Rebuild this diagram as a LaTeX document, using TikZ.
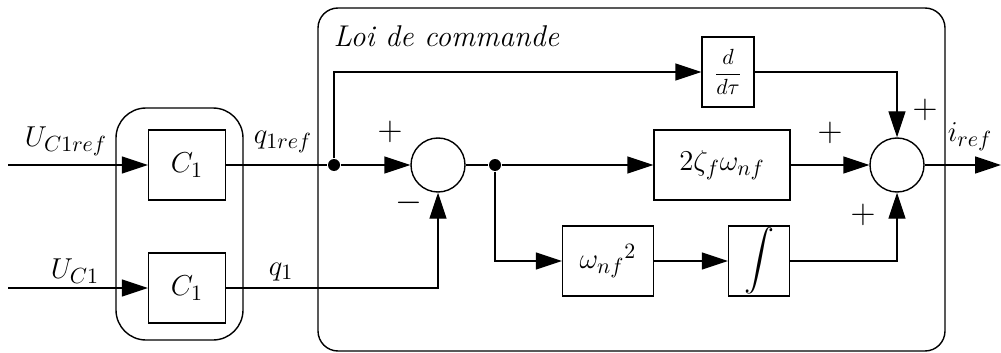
\documentclass[tikz,border=0pt]{standalone}
\usepackage{amsmath, amssymb}
\usepackage{tikz}
\usetikzlibrary{arrows.meta}
\usetikzlibrary{positioning}

\begin{document}
\begin{tikzpicture}[x=0.5pt, y=-0.5pt, >={Triangle[length=13pt,width=8.5pt]},
    line width=0.7pt, font=\fontsize{15}{18}\selectfont,
    block/.style={draw, inner sep=0pt, minimum height=35pt},
    sumnode/.style={draw, circle, inner sep=0pt, minimum size=27pt},
    junction/.style={circle, fill, inner sep=0pt, minimum size=6pt},
    sign/.style={inner sep=0pt, font=\fontsize{17}{17}\selectfont}]
      \useasboundingbox (0,0) rectangle (1001,353);

      % groups
      \draw[rounded corners=15pt] (116,108) rectangle (243,340);
      \draw[rounded corners=10pt] (318,8) rectangle (945,351);
      \node[anchor=west, inner sep=0pt] (T) at (333,36) {\itshape Loi de commande};

      % blocks
      \node[block, minimum width=38.5pt] (C1a) at (187,165) {$C_1$};
      \node[block, minimum width=38.5pt] (C1b) at (187,288) {$C_1$};
      \node[block, minimum width=26pt] (D) at (728,72) {\fontsize{11}{13}\selectfont$\dfrac{d}{d\tau}$};
      \node[block, minimum width=68pt] (K) at (722,165) {$2\zeta_f\omega_{nf}$};
      \node[block, minimum width=45.5pt] (W) at (608,261) {${\omega_{nf}}^2$};
      \node[block, minimum width=30.5pt] (I) at (759,261) {$\displaystyle\int$};

      \node[sumnode] (S1) at (438,165) {};
      \node[sumnode] (S2) at (897,165) {};

      \node[junction] (P1) at (334,165) {};
      \node[junction] (P2) at (495,165) {};

      \coordinate (In1) at (8,165);
      \coordinate (In2) at (8,288);
      \coordinate (Out) at (1001,165);

      % labels
      \node (L1) at (66,141) {$U_{C1ref}$};
      \node (L2) at (75,271) {$U_{C1}$};
      \node (L3) at (283,142) {$q_{1ref}$};
      \node (L4) at (281,272) {$q_1$};
      \node (L5) at (970,137) {$i_{ref}$};
      \node[sign] (M1) at (390,132) {$+$};
      \node[sign] (M2) at (409,203) {$-$};
      \node[sign] (M3) at (925,110) {$+$};
      \node[sign] (M4) at (830,133) {$+$};
      \node[sign] (M5) at (863,215) {$+$};

      % connections
      \draw[->] (In1) -- (C1a);
      \draw[->] (In2) -- (C1b);
      \draw (C1a) -- (P1);
      \draw[->] (P1) -- (S1);
      \draw[->] (P1) |- (D);
      \draw[->] (C1b) -| (S1);
      \draw (S1) -- (P2);
      \draw[->] (P2) -- (K);
      \draw[->] (P2) |- (W);
      \draw[->] (W) -- (I);
      \draw[->] (D) -| (S2);
      \draw[->] (K) -- (S2);
      \draw[->] (I) -| (S2);
      \draw[->] (S2) -- (Out);
    \end{tikzpicture}
\end{document}
